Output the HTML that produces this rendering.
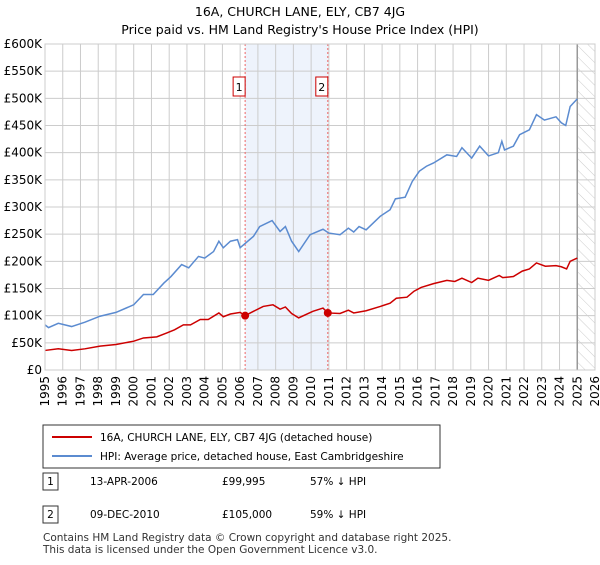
<!DOCTYPE html>
<html><head><meta charset="utf-8"><style>
body{margin:0;background:#fff;font-family:"Liberation Sans","DejaVu Sans",sans-serif;}
svg text{font-family:"DejaVu Sans","Liberation Sans",sans-serif;}
</style></head><body>
<svg id="c" width="600" height="560" xmlns="http://www.w3.org/2000/svg">
<text x="300" y="16" text-anchor="middle" font-size="12.5">16A, CHURCH LANE, ELY, CB7 4JG</text>
<text x="300" y="34" text-anchor="middle" font-size="12.5">Price paid vs. HM Land Registry's House Price Index (HPI)</text>
<g id="plot"></g>
<g>
<rect x="43" y="425" width="397" height="43" fill="#fff" stroke="#333" stroke-width="1"/>
<line x1="52" y1="437" x2="92" y2="437" stroke="#cc0000" stroke-width="2"/>
<text x="100" y="441" font-size="10.5">16A, CHURCH LANE, ELY, CB7 4JG (detached house)</text>
<line x1="52" y1="456" x2="92" y2="456" stroke="#5b8bd0" stroke-width="2"/>
<text x="100" y="460" font-size="10.5">HPI: Average price, detached house, East Cambridgeshire</text>
</g>
<g font-size="10.5">
<rect x="43" y="473" width="15" height="17" fill="#fff" stroke="#333"/><text x="50.5" y="485" text-anchor="middle">1</text>
<text x="90" y="485">13-APR-2006</text><text x="222" y="485">£99,995</text><text x="310" y="485">57% ↓ HPI</text>
<rect x="43" y="506" width="15" height="17" fill="#fff" stroke="#333"/><text x="50.5" y="518" text-anchor="middle">2</text>
<text x="90" y="518">09-DEC-2010</text><text x="222" y="518">£105,000</text><text x="310" y="518">59% ↓ HPI</text>
</g>
<text x="43" y="541" font-size="10.5" fill="#333">Contains HM Land Registry data © Crown copyright and database right 2025.</text>
<text x="43" y="553" font-size="10.5" fill="#333">This data is licensed under the Open Government Licence v3.0.</text>
</svg>
<script>
const hpiYears=[1995.0,1995.2,1995.75,1996.5,1997.25,1998.1,1999.0,2000.0,2000.55,2001.1,2001.7,2002.1,2002.7,2003.1,2003.65,2004.0,2004.5,2004.8,2005.05,2005.45,2005.85,2006.0,2006.75,2007.1,2007.8,2008.25,2008.55,2008.9,2009.3,2009.94,2010.67,2011.0,2011.63,2012.1,2012.4,2012.7,2013.1,2013.9,2014.45,2014.75,2015.3,2015.7,2016.1,2016.5,2016.9,2017.65,2018.2,2018.5,2019.05,2019.5,2020.0,2020.55,2020.75,2020.9,2021.4,2021.75,2022.3,2022.7,2023.15,2023.8,2024.1,2024.35,2024.6,2025.0];
const hpiValues=[83,78,86,80,88,99,106,120,139,139,160,172,194,188,209,206,218,237,225,237,240,225,246,264,275,255,264,237,218,249,259,252,249,261,254,264,258,283,295,315,318,347,366,375,381,396,393,409,390,412,394,400,421,405,412,433,442,470,460,466,455,450,485,499];
const priceYears=[1995.0,1995.75,1996.5,1997.25,1998.1,1999.0,2000.0,2000.55,2001.3,2001.85,2002.3,2002.8,2003.2,2003.75,2004.2,2004.8,2005.05,2005.45,2006.0,2006.28,2006.75,2007.3,2007.85,2008.25,2008.55,2008.9,2009.3,2010.1,2010.67,2010.94,2011.63,2012.1,2012.4,2013.1,2013.9,2014.45,2014.8,2015.4,2015.8,2016.2,2016.9,2017.65,2018.1,2018.5,2019.05,2019.4,2020.0,2020.6,2020.8,2021.4,2021.9,2022.3,2022.7,2023.2,2023.8,2024.1,2024.4,2024.6,2025.0];
const priceValues=[36,39,36,39,44,47,53,59,61,68,74,83,83,93,93,105,98,103,106,100,108,117,120,112,116,104,96,108,114,105,104,110,105,109,117,123,132,134,145,152,159,165,163,169,161,169,165,174,170,172,182,186,197,191,192,190,186,200,206];
const saleYears=[2006.28,2010.94];
const saleValues=[99.995,105];
const saleLabels=["1","2"];
const yTicks=[0,50,100,150,200,250,300,350,400,450,500,550,600];
const xTicks=[1995,1996,1997,1998,1999,2000,2001,2002,2003,2004,2005,2006,2007,2008,2009,2010,2011,2012,2013,2014,2015,2016,2017,2018,2019,2020,2021,2022,2023,2024,2025,2026];
const L=45,R=595,T=44,B=370,X0=1995,X1=2026,DATA_END=2025.0;
const xs=y=>L+(y-X0)/(X1-X0)*(R-L);
const ys=v=>B-v/600*(B-T);
const NS="http://www.w3.org/2000/svg";
const g=document.getElementById('plot');
function mk(t,a){const e=document.createElementNS(NS,t);for(const k in a)e.setAttribute(k,a[k]);g.appendChild(e);return e;}
// defs hatch
const defs=mk('defs',{});
defs.innerHTML='<pattern id="hatch" width="8" height="8" patternUnits="userSpaceOnUse" patternTransform="rotate(-45)"><line x1="0" y1="0" x2="0" y2="8" stroke="#ccc" stroke-width="1"/></pattern>';
const sh=mk('rect',{x:xs(saleYears[0]),y:T,width:xs(saleYears[1])-xs(saleYears[0]),height:B-T,fill:'#eef3fc'});


const ht=mk('rect',{x:xs(DATA_END),y:T,width:R-xs(DATA_END),height:B-T,fill:'url(#hatch)'});


yTicks.forEach(v=>{
 const l=mk('line',{x1:L,x2:R,y1:ys(v),y2:ys(v),stroke:'#ccc','stroke-width':1});
 
 
 const t=mk('text',{x:L-3,y:ys(v)+4,'text-anchor':'end','font-size':'12'});
 t.textContent='£'+(v===0?'0':v+'K');
 
 
});
xTicks.forEach(yr=>{
 const l=mk('line',{x1:xs(yr),x2:xs(yr),y1:T,y2:B,stroke:'#ccc','stroke-width':1});
 
 
 const t=mk('text',{x:0,y:0,'text-anchor':'end','font-size':'12',transform:`translate(${xs(yr)+4},${B+6}) rotate(-90)`});
 t.textContent=yr;
 
 
});
const el=mk('line',{x1:xs(DATA_END),x2:xs(DATA_END),y1:T,y2:B,stroke:'#999','stroke-width':1.5});


saleYears.forEach((yr,i)=>{
 const l=mk('line',{x1:xs(yr),x2:xs(yr),y1:T,y2:B,stroke:'#e66','stroke-width':1,'stroke-dasharray':'2,2'});
 
 
 const r=mk('rect',{x:xs(yr)-12,y:77,width:12,height:19,fill:'#fff',stroke:'#cc0000'});
 
 
 const t=mk('text',{x:xs(yr)-6,y:91,'text-anchor':'middle','font-size':'11'});
 t.textContent=saleLabels[i];
 
 
});
const hp=mk('polyline',{points:hpiYears.map((y,i)=>xs(y)+','+ys(hpiValues[i])).join(' '),fill:'none',stroke:'#5b8bd0','stroke-width':1.5});


const pp=mk('polyline',{points:priceYears.map((y,i)=>xs(y)+','+ys(priceValues[i])).join(' '),fill:'none',stroke:'#cc0000','stroke-width':1.5});


saleYears.forEach((yr,i)=>{
 const c=mk('circle',{cx:xs(yr),cy:ys(saleValues[i]),r:4,fill:'#cc0000'});
 
 
});
const fr=mk('rect',{x:L,y:T,width:R-L,height:B-T,fill:'none',stroke:'#ccc'});


</script>
</body></html>
